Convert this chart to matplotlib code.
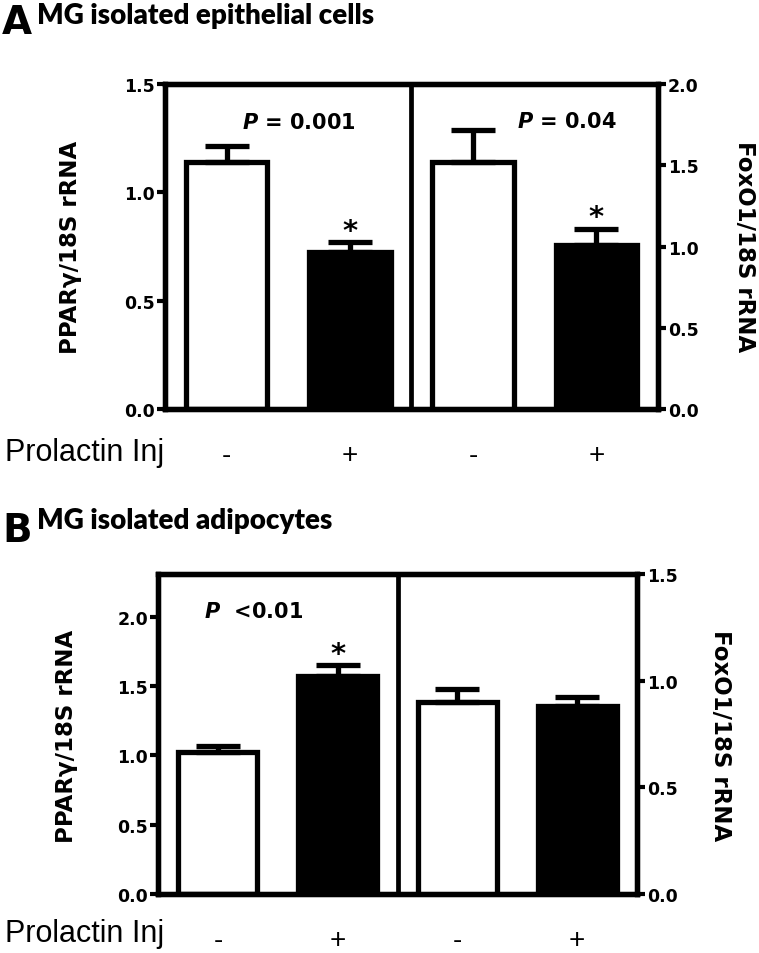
import numpy as np
import matplotlib
matplotlib.use("Agg")
import matplotlib.pyplot as plt

plt.rcParams['font.family'] = ['DejaVu Sans']
plt.rcParams['mathtext.fontset'] = 'custom'
plt.rcParams['mathtext.it'] = 'DejaVu Sans:italic:bold'

# data
groups = ['-', '+', '-', '+']
a_ppar = [1.14, 0.725]
a_ppar_err = [0.075, 0.045]
a_foxo = [1.52, 1.01]
a_foxo_err = [0.20, 0.10]
b_ppar = [1.025, 1.575]
b_ppar_err = [0.045, 0.075]
b_foxo = [0.90, 0.883]
b_foxo_err = [0.062, 0.04]
a_ticks_left = [0.0, 0.5, 1.0, 1.5]
a_ticks_right = [0.0, 0.5, 1.0, 1.5, 2.0]
b_ticks_left = [0.0, 0.5, 1.0, 1.5, 2.0]
b_ticks_right = [0.0, 0.5, 1.0, 1.5]

LW = 3.8
W = 0.66


def bars(ax, xs, vals, errs, colors):
    ax.bar(xs, vals, W, color=colors, edgecolor='black', linewidth=LW, zorder=2)
    ax.errorbar(xs, vals, yerr=[np.zeros(len(errs)), errs], fmt='none', ecolor='black',
                elinewidth=LW, capsize=16, capthick=LW, zorder=3)


def panel(rect, left, left_err, right, right_err, ylim_l, ylim_r, ticks_l, ticks_r):
    ax = fig.add_axes(rect)
    ax2 = ax.twinx()
    bars(ax, [0, 1], left, left_err, ['white', 'black'])
    bars(ax2, [2, 3], right, right_err, ['white', 'black'])
    ax.set_xlim(-0.5, 3.5)
    ax.set_ylim(ylim_l)
    ax2.set_ylim(ylim_r)
    ax.axvline(1.5, color='black', lw=LW * 0.9, zorder=4)
    ax.set_yticks(ticks_l)
    ax2.set_yticks(ticks_r)
    ax.set_yticklabels(['%.1f' % t for t in ticks_l])
    ax2.set_yticklabels(['%.1f' % t for t in ticks_r])
    ax.set_xticks([0, 1, 2, 3])
    ax.set_xticklabels(groups, fontsize=20, family='Liberation Sans')
    ax.tick_params(axis='x', length=0, pad=24)
    ax.tick_params(axis='y', length=6, width=3, pad=1, labelsize=12.5)
    ax2.tick_params(axis='y', length=6, width=3, pad=1, labelsize=12.5)
    for t in ax.get_yticklabels() + ax2.get_yticklabels():
        t.set_fontweight('bold')
    for a in (ax, ax2):
        for s in a.spines.values():
            s.set_linewidth(LW)
    return ax, ax2


fig = plt.figure(figsize=(7.59, 9.54), dpi=100)

# panel A
ax, ax2 = panel([0.2174, 0.5702, 0.6495, 0.3407], a_ppar, a_ppar_err, a_foxo, a_foxo_err,
                (0, 1.5), (0, 2.0), a_ticks_left, a_ticks_right)
ax.text(0.59, 1.325, '$P$ = 0.001', fontsize=15, fontweight='bold', ha='center', va='center')
ax2.text(2.76, 1.77, '$P$ = 0.04', fontsize=15, fontweight='bold', ha='center', va='center')
ax.annotate('*', (1, a_ppar[1] + a_ppar_err[1]), xytext=(0, -2), textcoords='offset points',
            ha='center', va='bottom', fontsize=21, fontweight='bold')
ax2.annotate('*', (3, a_foxo[1] + a_foxo_err[1]), xytext=(0, -2), textcoords='offset points',
             ha='center', va='bottom', fontsize=21, fontweight='bold')
fig.text(70 / 759, 1 - 247 / 954, 'PPARγ/18S rRNA', rotation=90, fontsize=16.5, fontweight='bold',
         ha='center', va='center')
fig.text(745 / 759, 1 - 247 / 954, 'FoxO1/18S rRNA', rotation=-90, fontsize=16.5, fontweight='bold',
         ha='center', va='center')
fig.text(5 / 759, 1 - 453 / 954, 'Prolactin Inj', fontsize=22, ha='left', va='center',
         family='Liberation Sans')
fig.text(2 / 759, 1 - 34 / 954, 'A', fontsize=28, fontweight='bold')
fig.text(37 / 759, 1 - 24 / 954, 'MG isolated epithelial cells', fontsize=20, fontweight='heavy',
         family='Lato')

# panel B
ax, ax2 = panel([0.2082, 0.0618, 0.6311, 0.3355], b_ppar, b_ppar_err, b_foxo, b_foxo_err,
                (0, 2.31), (0, 1.5), b_ticks_left, b_ticks_right)
ax.text(0.30, 2.04, '$P$  <0.01', fontsize=15, fontweight='bold', ha='center', va='center')
ax.annotate('*', (1, b_ppar[1] + b_ppar_err[1]), xytext=(0, -2), textcoords='offset points',
            ha='center', va='bottom', fontsize=21, fontweight='bold')
fig.text(67 / 759, 1 - 736 / 954, 'PPARγ/18S rRNA', rotation=90, fontsize=16.5, fontweight='bold',
         ha='center', va='center')
fig.text(721 / 759, 1 - 736 / 954, 'FoxO1/18S rRNA', rotation=-90, fontsize=16.5, fontweight='bold',
         ha='center', va='center')
fig.text(5 / 759, 1 - 934 / 954, 'Prolactin Inj', fontsize=22, ha='left', va='center',
         family='Liberation Sans')
fig.text(2 / 759, 1 - 542 / 954, 'B', fontsize=28, fontweight='bold')
fig.text(37 / 759, 1 - 529 / 954, 'MG isolated adipocytes', fontsize=20, fontweight='heavy',
         family='Lato')

plt.savefig('out.png', dpi=100)
